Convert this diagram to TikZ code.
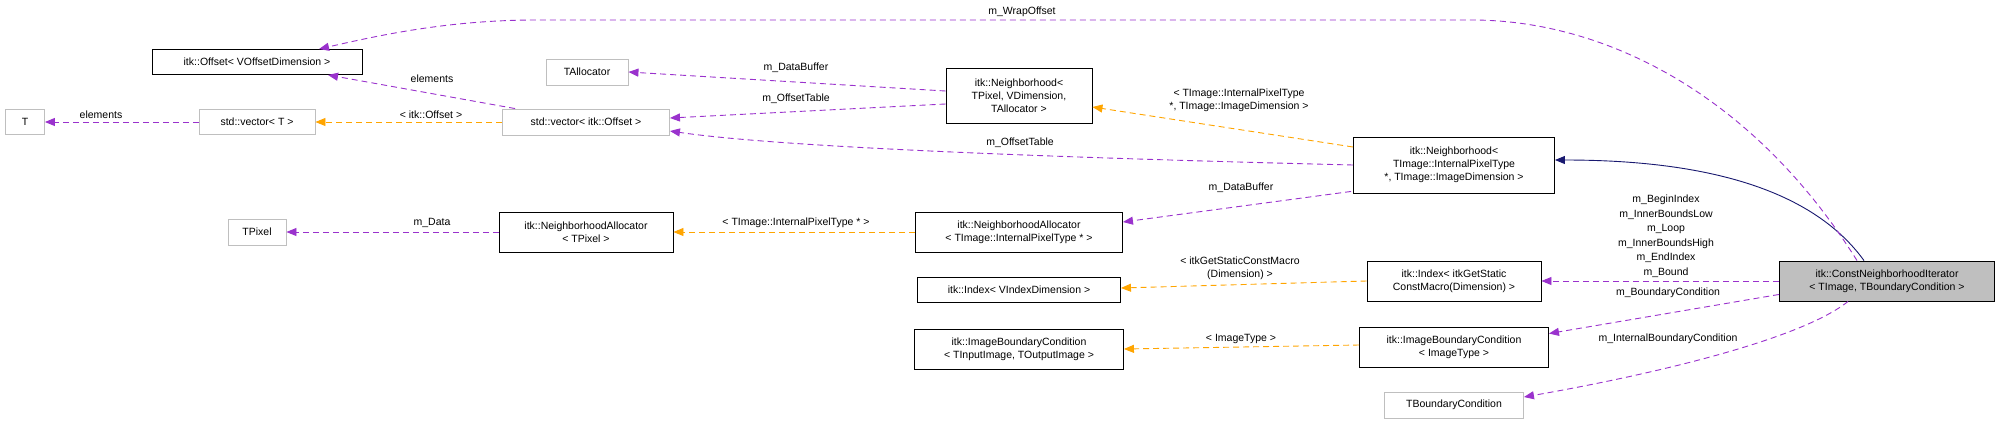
\documentclass[tikz,border=0pt]{standalone}
\usepackage{fontspec}
\setmainfont{Liberation Sans}
\usetikzlibrary{arrows.meta,calc}
\definecolor{pur}{HTML}{9A32CD}
\definecolor{org}{HTML}{FFA500}
\definecolor{nav}{HTML}{191970}
\definecolor{gbd}{HTML}{BFBFBF}
\begin{document}
\begin{tikzpicture}[x=1pt,y=-1pt,
  every node/.style={font=\fontsize{10.5}{13}\selectfont,inner sep=0pt,align=center},
  cls/.style={draw=black,line width=0.9pt,fill=white},
  gcls/.style={draw=gbd,line width=0.9pt,fill=white},
  lbl/.style={},
  tip/.style={-{Triangle[length=10pt,width=8pt]}},
  mem/.style={tip,draw=pur,dashed,dash pattern=on 6pt off 4pt,line width=0.9pt},
  tpl/.style={tip,draw=org,dashed,dash pattern=on 6pt off 4pt,line width=0.9pt},
  inh/.style={tip,draw=nav,line width=0.9pt}]
\useasboundingbox (0,0) rectangle (2003,424);
\fill[white] (0,0) rectangle (2003,424);
% nodes
\node[cls,minimum width=210,minimum height=25] (off) at (257,62) {itk::Offset< VOffsetDimension >};
\node[gcls,minimum width=82,minimum height=26] (talloc) at (587,72) {TAllocator};
\node[cls,minimum width=146,minimum height=55] (nbtp) at (1019,96) {itk::Neighborhood<\\ TPixel, VDimension,\\ TAllocator >};
\node[gcls,minimum width=39,minimum height=25] (T) at (25,122) {T};
\node[gcls,minimum width=116,minimum height=25] (vect) at (257,122) {std::vector< T >};
\node[gcls,minimum width=167,minimum height=26] (vecoff) at (586,122) {std::vector< itk::Offset >};
\node[cls,minimum width=201,minimum height=56] (nbti) at (1454,165) {itk::Neighborhood<\\ TImage::InternalPixelType\\ *, TImage::ImageDimension >};
\node[gcls,minimum width=58,minimum height=26] (tpixel) at (257,232) {TPixel};
\node[cls,minimum width=174,minimum height=40] (natp) at (586,232) {itk::NeighborhoodAllocator\\< TPixel >};
\node[cls,minimum width=207,minimum height=40] (nati) at (1019,232) {itk::NeighborhoodAllocator\\< TImage::InternalPixelType * >};
\node[cls,minimum width=203,minimum height=25] (idxv) at (1019,290) {itk::Index< VIndexDimension >};
\node[cls,minimum width=174,minimum height=40] (idxgs) at (1454,281) {itk::Index< itkGetStatic\\ConstMacro(Dimension) >};
\node[cls,minimum width=209,minimum height=40] (ibcti) at (1019,349) {itk::ImageBoundaryCondition\\< TInputImage, TOutputImage >};
\node[cls,minimum width=189,minimum height=40] (ibct) at (1454,347) {itk::ImageBoundaryCondition\\< ImageType >};
\node[gcls,minimum width=139,minimum height=26] (tbc) at (1454,405) {TBoundaryCondition};
\node[cls,fill=gbd,minimum width=215,minimum height=40] (cni) at (1887,281) {itk::ConstNeighborhoodIterator\\< TImage, TBoundaryCondition >};
% edges
\draw[mem] ($(nbtp.west)+(0,-5)$) -- (talloc.east);
\draw[mem] ($(nbtp.west)+(0,8)$) -- ($(vecoff.east)+(0,-4)$);
\draw[mem] ($(vecoff.north west)+(13,0)$) -- ($(off.south)+(71,0)$);
\draw[tpl] (vecoff.west) -- (vect.east);
\draw[mem] (vect.west) -- (T.east);
\draw[tpl] ($(nbti.west)+(0,-18)$) -- ($(nbtp.east)+(0,11)$);
\draw[mem] (nbti.west) .. controls (1150,160) and (800,150) .. ($(vecoff.east)+(0,9)$);
\draw[mem] ($(nbti.south west)+(-2,-2)$) -- ($(nati.east)+(0,-10)$);
\draw[tpl] (nati.west) -- (natp.east);
\draw[mem] (natp.west) -- (tpixel.east);
\draw[inh] ($(cni.north)+(-23,0)$) .. controls (1820,200) and (1730,160) .. ($(nbti.east)+(0,-5)$);
\draw[mem] ($(cni.north)+(-30,0)$) .. controls (1750,90) and (1600,20) .. (1472,20) -- (536,20) .. controls (450,20) and (380,35) .. ($(off.north)+(62,0)$);
\draw[mem] (cni.west) -- (idxgs.east);
\draw[tpl] (idxgs.west) -- ($(idxv.east)+(0,-2)$);
\draw[mem] ($(cni.south west)+(0,-7)$) -- ($(ibct.north east)+(0,7)$);
\draw[tpl] ($(ibct.west)+(0,-2)$) -- (ibcti.east);
\draw[mem] ($(cni.south)+(-39,0)$) .. controls (1800,340) and (1650,375) .. ($(tbc.east)+(0,-8)$);
% labels
\node[lbl] (l1) at (1022,12) {m\_WrapOffset};
\node[lbl] (l2) at (796,68) {m\_DataBuffer};
\node[lbl] (l3) at (796,99) {m\_OffsetTable};
\node[lbl] (l4) at (432,79) {elements};
\node[lbl] (l5) at (101,115) {elements};
\node[lbl] (l6) at (431,115) {< itk::Offset >};
\node[lbl] (l7) at (1020,143) {m\_OffsetTable};
\node[lbl] (l8) at (1239,100) {< TImage::InternalPixelType\\*, TImage::ImageDimension >};
\node[lbl] (l9) at (1241,188) {m\_DataBuffer};
\node[lbl] (l10) at (432,223) {m\_Data};
\node[lbl] (l11) at (796,223) {< TImage::InternalPixelType * >};
\node[lbl] (l12) at (1240,268) {< itkGetStaticConstMacro\\(Dimension) >};
\node[lbl,font=\fontsize{10.5}{14.5}\selectfont] (l13) at (1666,236) {m\_BeginIndex\\m\_InnerBoundsLow\\m\_Loop\\m\_InnerBoundsHigh\\m\_EndIndex\\m\_Bound};
\node[lbl] (l14) at (1668,293) {m\_BoundaryCondition};
\node[lbl] (l15) at (1241,339) {< ImageType >};
\node[lbl] (l16) at (1668,339) {m\_InternalBoundaryCondition};
\end{tikzpicture}
\end{document}
